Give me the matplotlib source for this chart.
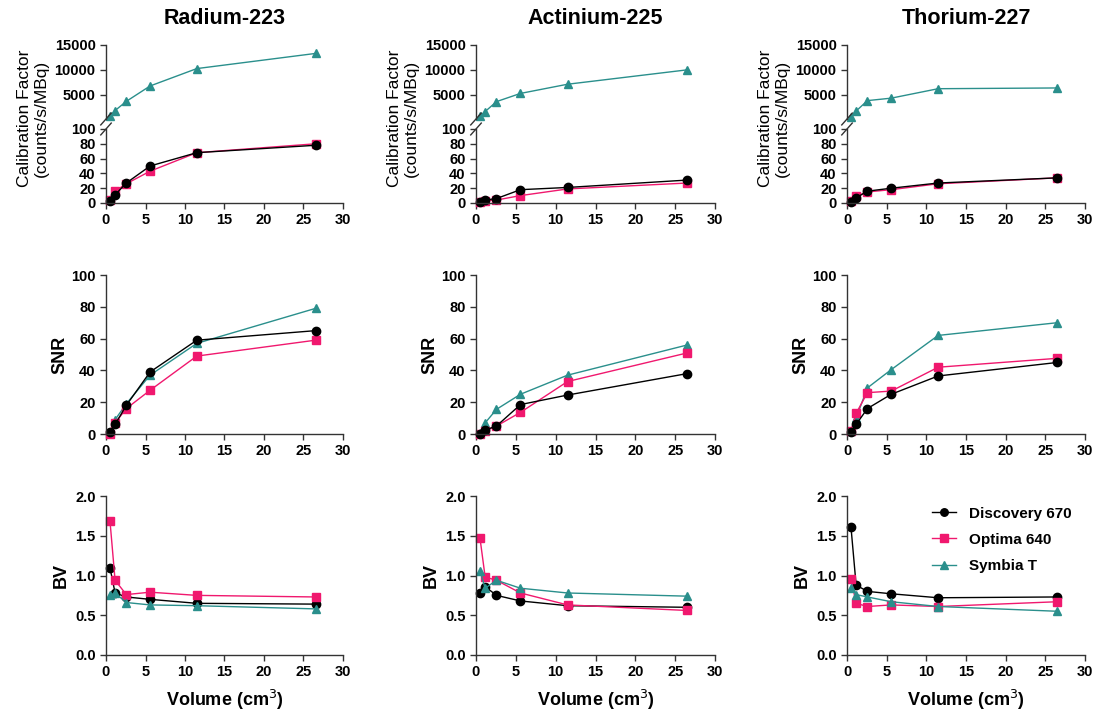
import numpy as np
import matplotlib.pyplot as plt

plt.rcParams['font.family'] = ['Liberation Sans', 'DejaVu Sans']

# sphere volumes (cm^3)
volume = [0.5, 1.15, 2.57, 5.58, 11.49, 26.52]

isotopes = ["Radium-223", "Actinium-225", "Thorium-227"]
scanners = ["Discovery 670", "Optima 640", "Symbia T"]
colors = ["#000000", "#f0186e", "#2a8f8c"]
markers = ["o", "s", "^"]

# calibration factor (counts/s/MBq)
cf_ra = [[3, 11, 27, 50, 68, 78],
         [4, 16, 26, 43, 68, 80],
         [700, 1800, 3650, 6750, 10250, 13300]]
cf_ac = [[2, 4, 6, 18, 21, 31],
         [1, 3, 4, 10, 19, 27],
         [700, 1600, 3600, 5250, 7100, 10000]]
cf_th = [[2, 7, 16, 20, 27, 34],
         [3, 9, 15, 18, 26, 34],
         [600, 1700, 3800, 4300, 6200, 6350]]

# SNR
snr_ra = [[1, 6, 18, 39, 59, 65],
          [0, 7, 16, 27.5, 49, 59],
          [1, 9, 19, 37, 57, 79]]
snr_ac = [[0, 2.5, 5, 18.5, 24.5, 38],
          [0, 2, 5, 13.6, 33, 51],
          [0.5, 7, 15.5, 25, 37, 56]]
snr_th = [[1, 6, 16, 25, 36.5, 45],
          [2, 13, 26, 27, 42, 47.6],
          [2, 10, 29, 40.5, 62, 70]]

# BV
bv_ra = [[1.10, 0.78, 0.73, 0.70, 0.65, 0.64],
         [1.69, 0.94, 0.76, 0.79, 0.75, 0.73],
         [0.75, 0.78, 0.66, 0.63, 0.62, 0.58]]
bv_ac = [[0.78, 0.86, 0.75, 0.68, 0.62, 0.60],
         [1.47, 0.98, 0.94, 0.78, 0.63, 0.56],
         [1.06, 0.84, 0.94, 0.84, 0.78, 0.74]]
bv_th = [[1.61, 0.88, 0.80, 0.77, 0.72, 0.73],
         [0.96, 0.65, 0.61, 0.63, 0.61, 0.67],
         [0.84, 0.76, 0.73, 0.67, 0.61, 0.55]]

cf_all = [cf_ra, cf_ac, cf_th]
snr_all = [snr_ra, snr_ac, snr_th]
bv_all = [bv_ra, bv_ac, bv_th]

W, H = 1095, 711
fig = plt.figure(figsize=(W / 100, H / 100), dpi=100)

def px_axes(x0, x1, y0, y1):
    # pixel box (top y0, bottom y1) -> figure axes
    return fig.add_axes([x0 / W, 1 - y1 / H, (x1 - x0) / W, (y1 - y0) / H])

spine_col = "#333333"
tick_kw = dict(labelsize=10.5, width=1, length=4, color=spine_col)

def style(ax):
    for s in ["top", "right"]:
        ax.spines[s].set_visible(False)
    for s in ["left", "bottom"]:
        ax.spines[s].set_color(spine_col)
        ax.spines[s].set_linewidth(1)
    ax.tick_params(**tick_kw)
    for lab in ax.get_xticklabels() + ax.get_yticklabels():
        lab.set_fontweight("bold")

def draw(ax, series, which=(0, 1, 2), labels=False):
    for i in which:
        ax.plot(volume, series[i], color=colors[i], marker=markers[i],
                markersize=6, linewidth=1,
                label=scanners[i] if labels else None, clip_on=False)

cols = [(106, 343), (476, 715), (847, 1085)]
xt = [0, 5, 10, 15, 20, 25, 30]

for c, (x0, x1) in enumerate(cols):
    # top row, broken axis: Symbia T above, GE scanners below
    ax_up = px_axes(x0, x1, 45, 119)
    ax_lo = px_axes(x0, x1, 129, 203)
    draw(ax_up, cf_all[c], which=(2,))
    draw(ax_lo, cf_all[c], which=(1, 0))
    ax_up.set_ylim(100, 15000)
    ax_up.set_yticks([5000, 10000, 15000])
    ax_up.set_xlim(0, 30)
    ax_up.set_xticks([])
    ax_up.spines["bottom"].set_visible(False)
    ax_lo.set_ylim(0, 100)
    ax_lo.set_yticks([0, 20, 40, 60, 80, 100])
    ax_lo.set_xlim(0, 30)
    ax_lo.set_xticks(xt)
    style(ax_up)
    style(ax_lo)
    # break marks
    kw = dict(transform=ax_up.transAxes, color=spine_col, lw=1, clip_on=False)
    ax_up.plot([-0.022, 0.022], [-0.08, 0.08], **kw)
    kw["transform"] = ax_lo.transAxes
    ax_lo.plot([-0.022, 0.022], [0.92, 1.08], **kw)
    fig.text((x0 - 73) / W, 1 - 118 / H, "Calibration Factor\n(counts/s/MBq)",
             rotation=90, ha="center", va="center", fontsize=12.5,
             linespacing=1.1)
    fig.text((x0 + x1) / 2 / W, 1 - 18 / H, isotopes[c], ha="center",
             va="center", fontsize=15.5, fontweight="bold")

    # SNR
    ax = px_axes(x0, x1, 275, 434)
    draw(ax, snr_all[c], which=(2, 1, 0))
    ax.set_xlim(0, 30)
    ax.set_ylim(0, 100)
    ax.set_xticks(xt)
    ax.set_yticks([0, 20, 40, 60, 80, 100])
    style(ax)
    ax.set_ylabel("SNR", fontsize=13, fontweight="bold", labelpad=2)

    # BV
    ax = px_axes(x0, x1, 496, 655)
    draw(ax, bv_all[c], labels=(c == 2))
    ax.set_xlim(0, 30)
    ax.set_ylim(0, 2.0)
    ax.set_xticks(xt)
    ax.set_yticks([0, 0.5, 1.0, 1.5, 2.0])
    ax.set_yticklabels(["0.0", "0.5", "1.0", "1.5", "2.0"])
    style(ax)
    ax.set_ylabel("BV", fontsize=13, fontweight="bold", labelpad=4)
    ax.set_xlabel("Volume (cm$^3$)", fontsize=13, fontweight="bold", labelpad=6)
    if c == 2:
        leg = ax.legend(loc="upper right", frameon=False, fontsize=11,
                        handlelength=1.6, markerscale=0.9,
                        bbox_to_anchor=(1.0, 1.02), labelspacing=0.8)
        for t in leg.get_texts():
            t.set_fontweight("bold")

fig.savefig("out.png", dpi=100)
